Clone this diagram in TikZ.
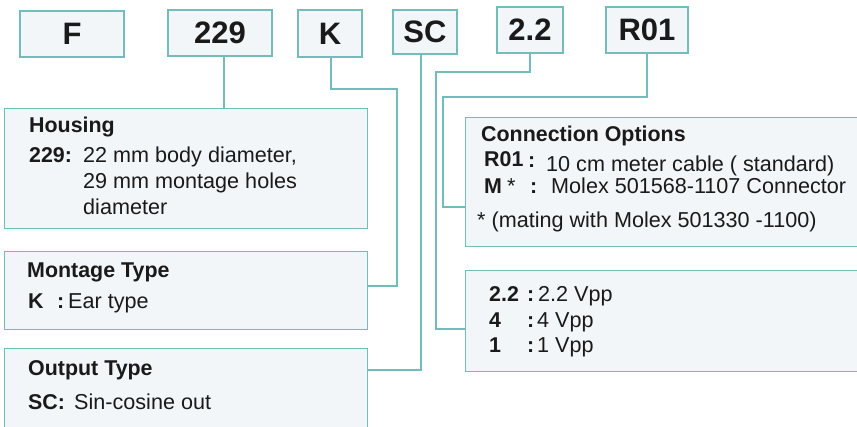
\documentclass[tikz,border=0pt]{standalone}
\usepackage{fontspec}
\setmainfont{Liberation Sans}
\definecolor{teal1}{HTML}{72BCBA}
\definecolor{boxfill}{HTML}{F2F6F9}
\definecolor{ink}{HTML}{1A1A1A}
\tikzset{
  codebox/.style={draw=teal1, fill=boxfill, line width=1.3pt, inner sep=0pt,
    font=\fontsize{31}{34}\selectfont\bfseries, text=ink},
  infobox/.style={draw=teal1, fill=boxfill, line width=1.3pt, inner sep=0pt, anchor=north west},
  conn/.style={draw=teal1, line width=1.3pt},
  txt/.style={anchor=base west, inner sep=0pt, font=\fontsize{21.6}{26}\selectfont, text=ink},
  btxt/.style={txt, font=\fontsize{21.4}{26}\selectfont\bfseries},
}
\begin{document}
\begin{tikzpicture}[x=1pt,y=-1pt]
\useasboundingbox (0,0) rectangle (857,427);
\clip (0,0) rectangle (857,427);
\fill[white] (0,0) rectangle (857,427);

% top code boxes
\node[codebox, minimum width=104pt, minimum height=46pt] (cF) at (72,34) {F};
\node[codebox, minimum width=104pt, minimum height=46pt] (c229) at (220,33) {229};
\node[codebox, minimum width=64pt, minimum height=47pt] (cK) at (330,33.5) {K};
\node[codebox, minimum width=64pt, minimum height=44pt] (cSC) at (425,32) {SC};
\node[codebox, minimum width=66pt, minimum height=46pt] (c22) at (530,30) {2.2};
\node[codebox, minimum width=82pt, minimum height=46pt] (cR01) at (647,30) {R01};

% info boxes
\node[infobox, minimum width=363pt, minimum height=120pt] (housing) at (4,108) {};
\node[infobox, minimum width=363pt, minimum height=78pt] (montage) at (4,251) {};
\node[infobox, minimum width=363pt, minimum height=100pt] (output) at (4,348) {};
\node[infobox, minimum width=420pt, minimum height=129pt] (connopt) at (465,117) {};
\node[infobox, minimum width=420pt, minimum height=101pt] (vpp) at (465,270) {};

% connectors
\coordinate (kb1) at (331,89);
\coordinate (kb2) at (397,89);
\coordinate (kb3) at (397,286);
\draw[conn] ([xshift=4pt]c229.south) -- ([xshift=4pt]c229.south |- housing.north);
\draw[conn] ([xshift=1pt]cK.south) -- (kb1) -- (kb2) -- (kb3) -- (kb3 -| montage.east);
\coordinate (sc1) at (421,370);
\draw[conn] ([xshift=-4pt]cSC.south) -- (sc1) -- (sc1 -| output.east);
\coordinate (t1) at (530,72);
\coordinate (t2) at (436,72);
\coordinate (t3) at (436,329);
\draw[conn] (c22.south) -- (t1) -- (t2) -- (t3) -- (t3 -| vpp.west);
\coordinate (r1) at (647,97);
\coordinate (r2) at (443,97);
\coordinate (r3) at (443,207);
\draw[conn] (cR01.south) -- (r1) -- (r2) -- (r3) -- (r3 -| connopt.west);

% Housing text
\node[btxt] (hT) at (29,133) {Housing};
\node[btxt] (hK) at (29,163) {229:};
\node[txt] (hL1) at (83,163) {22 mm body diameter,};
\node[txt] (hL2) at (83,189) {29 mm montage holes};
\node[txt] (hL3) at (83,215) {diameter};

% Montage text
\node[btxt] (mT) at (27,278) {Montage Type};
\node[btxt] (mK) at (28,309) {K};
\node[btxt] (mC) at (57,309) {:};
\node[txt] (mL) at (68,309) {Ear type};

% Output text
\node[btxt] (oT) at (28,376) {Output Type};
\node[btxt] (oK) at (28,410) {SC:};
\node[txt] (oL) at (74,410) {Sin-cosine out};

% Connection options text
\node[btxt] (cT) at (481,142) {Connection Options};
\node[btxt] (cK1) at (484,167) {R01};
\node[btxt] (cC1) at (528,168) {:};
\node[txt] (cL1) at (546,172) {10 cm meter cable ( standard)};
\node[btxt] (cK2) at (484,194) {M};
\node[txt] (cS2) at (507,194) {*};
\node[btxt] (cC2) at (530,194) {:};
\node[txt] (cL2) at (551,194) {Molex 501568-1107 Connector};
\node[txt] (cN) at (477,228) {* (mating with Molex 501330 -1100)};

% Vpp text
\node[btxt] (vK1) at (489,302) {2.2};
\node[btxt] (vC1) at (527,302) {:};
\node[txt] (vL1) at (538,302) {2.2 Vpp};
\node[btxt] (vK2) at (489,328) {4};
\node[btxt] (vC2) at (527,328) {:};
\node[txt] (vL2) at (537,328) {4 Vpp};
\node[btxt] (vK3) at (489,353) {1};
\node[btxt] (vC3) at (527,353) {:};
\node[txt] (vL3) at (537,353) {1 Vpp};
\end{tikzpicture}
\end{document}
